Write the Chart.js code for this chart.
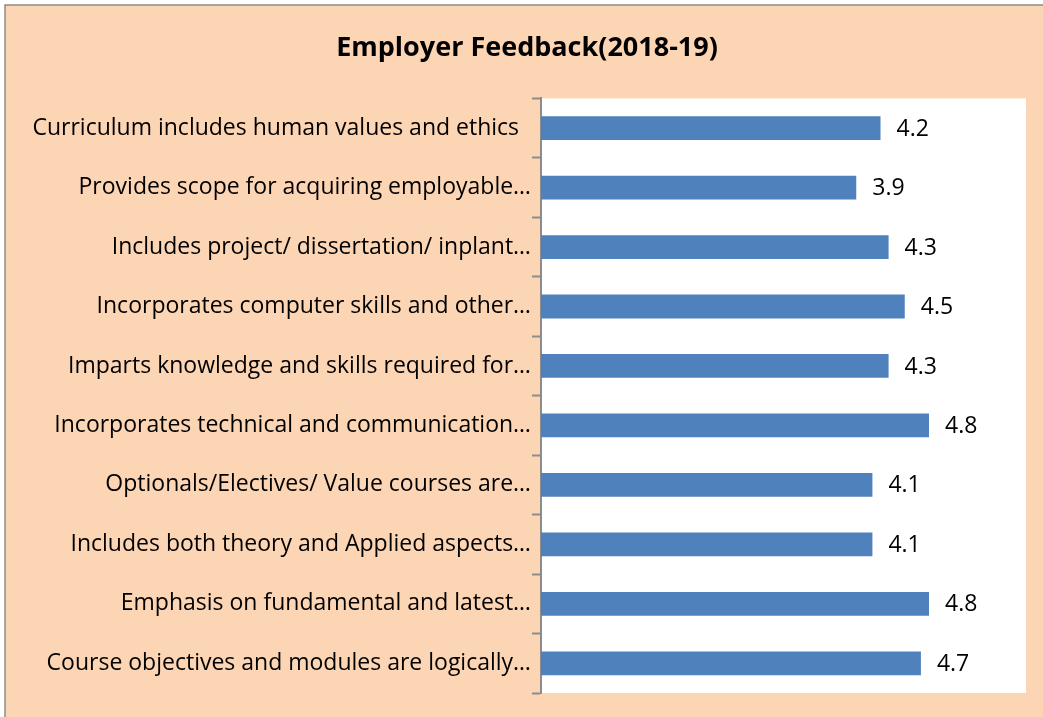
<!DOCTYPE html>
<html>
<head>
<meta charset="utf-8">
<script src="https://cdn.jsdelivr.net/npm/chart.js@4"></script>
<style>
  html, body { margin: 0; padding: 0; background: #fff; }
  canvas { display: block; }
</style>
</head>
<body>
<canvas id="feedbackChart" width="1043" height="717"></canvas>
<script>
const categories = [
  'Curriculum includes human values and ethics  ',
  'Provides scope for acquiring employable…',
  'Includes project/ dissertation/ inplant…',
  'Incorporates computer skills and other…',
  'Imparts knowledge and skills required for…',
  'Incorporates technical and communication…',
  'Optionals/Electives/ Value courses are…',
  'Includes both theory and Applied aspects…',
  'Emphasis on fundamental and latest…',
  'Course objectives and modules are logically…'
];
const scores = [4.2, 3.9, 4.3, 4.5, 4.3, 4.8, 4.1, 4.1, 4.8, 4.7];
const chartTitle = 'Employer Feedback(2018-19)';

const fontFamily = '"Open Sans", "Noto Sans", sans-serif';

// peach frame + white plot area
const backdrop = {
  id: 'backdrop',
  beforeDraw(chart) {
    const c = chart.ctx;
    const a = chart.chartArea;
    c.save();
    c.fillStyle = '#ffffff';
    c.fillRect(0, 0, chart.width, chart.height);
    c.fillStyle = '#fcd5b5';
    c.fillRect(5, 5, chart.width, chart.height);
    c.strokeStyle = '#8c8c8c';
    c.lineWidth = 1.5;
    c.beginPath();
    c.moveTo(5, chart.height);
    c.lineTo(5, 5);
    c.lineTo(chart.width, 5);
    c.stroke();
    c.fillStyle = '#ffffff';
    c.fillRect(a.left, a.top, a.right - a.left, a.bottom - a.top);
    c.restore();
  }
};

// value labels at bar ends
const valueLabels = {
  id: 'valueLabels',
  afterDatasetsDraw(chart) {
    const c = chart.ctx;
    const meta = chart.getDatasetMeta(0);
    c.save();
    c.font = '23px ' + fontFamily;
    c.fillStyle = '#000';
    c.textAlign = 'left';
    c.textBaseline = 'middle';
    meta.data.forEach((bar, i) => {
      c.fillText(scores[i].toFixed(1), bar.x + 16, bar.y + 1);
    });
    c.restore();
  }
};

new Chart(document.getElementById('feedbackChart'), {
  type: 'bar',
  data: {
    labels: categories,
    datasets: [{
      data: scores,
      backgroundColor: '#4f81bd',
      borderWidth: 0,
      categoryPercentage: 1,
      barPercentage: 0.4
    }]
  },
  options: {
    indexAxis: 'y',
    responsive: false,
    animation: false,
    layout: { padding: { left: 28, right: 17, top: 0, bottom: 24 } },
    plugins: {
      legend: { display: false },
      tooltip: { enabled: false },
      title: {
        display: true,
        text: chartTitle,
        color: '#000',
        font: { family: fontFamily, size: 27, weight: 'bold' },
        padding: { top: 32, bottom: 34 }
      }
    },
    scales: {
      x: {
        display: false,
        min: 0,
        max: 6
      },
      y: {
        afterFit(scale) { scale.width = 513; },
        border: { color: '#8c8c8c', width: 2 },
        grid: {
          drawOnChartArea: false,
          drawTicks: true,
          tickLength: 9,
          tickWidth: 2,
          color: '#8c8c8c',
          offset: true
        },
        ticks: {
          color: '#000',
          padding: 1,
          font: { family: fontFamily, size: 23 }
        }
      }
    }
  },
  plugins: [backdrop, valueLabels]
});
</script>
</body>
</html>
